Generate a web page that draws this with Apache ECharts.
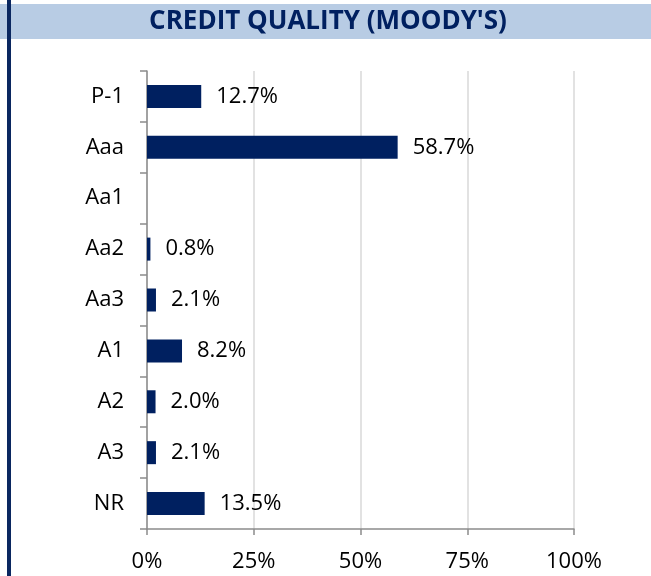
<!DOCTYPE html>
<html><head><meta charset="utf-8">
<script src="https://cdn.jsdelivr.net/npm/echarts@6/dist/echarts.min.js"></script>
<style>html,body{margin:0;padding:0;background:#fff}#c{width:651px;height:576px}</style>
</head><body><div id="c"></div>
<script>
const titleText = "CREDIT QUALITY (MOODY'S)";
const categories = ["P-1","Aaa","Aa1","Aa2","Aa3","A1","A2","A3","NR"];
const values = [12.7, 58.7, 0, 0.8, 2.1, 8.2, 2.0, 2.1, 13.5];
const xTicks = [0, 25, 50, 75, 100];

const chart = echarts.init(document.getElementById('c'), null, {renderer:'canvas'});
const font = "'Open Sans', sans-serif";
chart.setOption({
  animation:false,
  graphic:[
    {type:'rect', shape:{x:0,y:4,width:651,height:35}, style:{fill:'#b8cce4'}, z:0},
    {type:'rect', shape:{x:7,y:0,width:4,height:576}, style:{fill:'#0a2760'}, z:1},
    {type:'text', x:328, y:22, style:{text:titleText, fill:'#002060', font:"bold 26px 'Open Sans', sans-serif", textAlign:'center', textVerticalAlign:'middle'}, z:2}
  ],
  grid:{left:147, right:77, top:71, bottom:47},
  xAxis:{
    type:'value', min:0, max:100, interval:25,
    axisLine:{show:true, lineStyle:{color:'#8c8c8c', width:1.5}},
    axisTick:{show:true, length:6, lineStyle:{color:'#8c8c8c', width:1.5}},
    splitLine:{show:true, lineStyle:{color:'#d9d9d9', width:1.5}},
    axisLabel:{margin:22, color:'#000', fontFamily:font, fontSize:22,
      formatter:v => xTicks.includes(v) ? v + '%' : ''}
  },
  yAxis:{
    type:'category', data:categories, inverse:true,
    axisLine:{show:true, lineStyle:{color:'#8c8c8c', width:1.5}},
    axisTick:{show:true, length:7, lineStyle:{color:'#8c8c8c', width:1.5}},
    axisLabel:{margin:23, color:'#000', fontFamily:font, fontSize:22}
  },
  series:[{
    type:'bar', data:values, barWidth:23,
    itemStyle:{color:'#002060'},
    label:{show:true, position:'right', distance:15, color:'#000', fontFamily:font, fontSize:22,
      formatter:p => p.value > 0 ? p.value.toFixed(1) + '%' : ''}
  }]
});
</script></body></html>
